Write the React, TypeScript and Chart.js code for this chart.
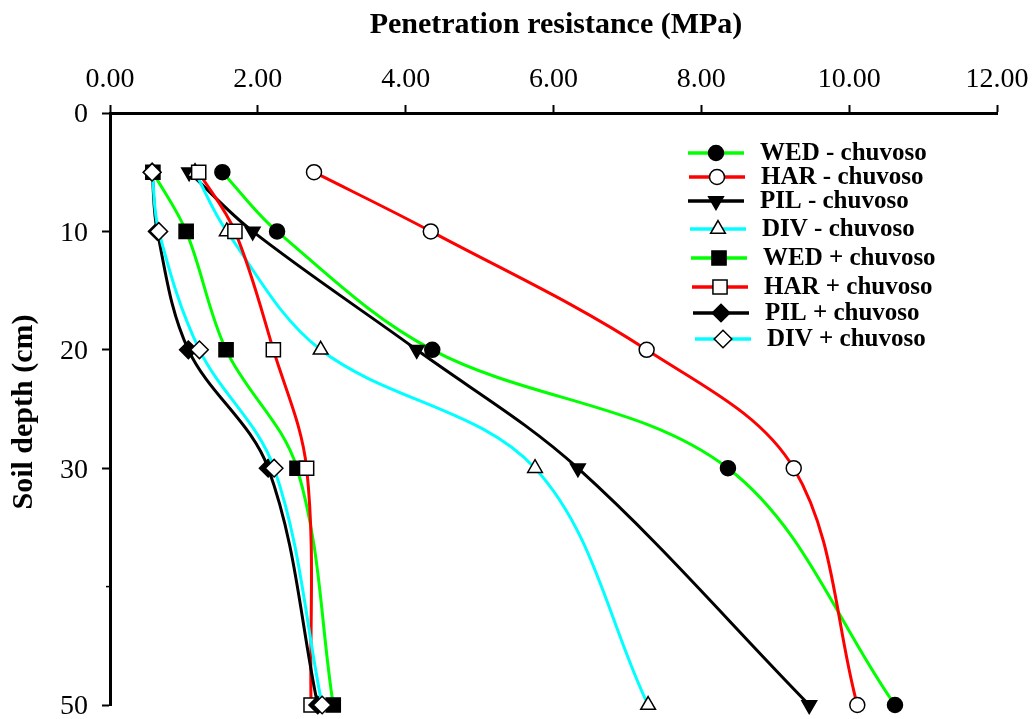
import React, { useEffect, useRef } from 'react';
import { Chart, registerables } from 'chart.js';
import { drawPoint } from 'chart.js/helpers';

Chart.register(...registerables);

// ---- Data ----
const depths = [5, 10, 20, 30, 50];
const wedMinus = [1.52, 2.26, 4.36, 8.36, 10.62];
const harMinus = [2.76, 4.34, 7.26, 9.25, 10.11];
const pilMinus = [1.07, 1.93, 4.15, 6.33, 9.46];
const divMinus = [1.15, 1.58, 2.85, 5.75, 7.28];
const wedPlus = [0.58, 1.03, 1.57, 2.53, 3.02];
const harPlus = [1.2, 1.69, 2.21, 2.66, 2.72];
const pilPlus = [0.57, 0.64, 1.06, 2.14, 2.81];
const divPlus = [0.57, 0.66, 1.21, 2.22, 2.87];

const seriesLabels = [
  'WED - chuvoso',
  'HAR - chuvoso',
  'PIL - chuvoso',
  'DIV - chuvoso',
  'WED + chuvoso',
  'HAR + chuvoso',
  'PIL + chuvoso',
  'DIV + chuvoso',
];
const seriesValues = [wedMinus, harMinus, pilMinus, divMinus, wedPlus, harPlus, pilPlus, divPlus];

const xTickValues = [0, 2, 4, 6, 8, 10, 12];
const xTickLabels = ['0.00', '2.00', '4.00', '6.00', '8.00', '10.00', '12.00'];
const yTickValues = [0, 10, 20, 30, 50];
const yTickLabels = ['0', '10', '20', '30', '50'];
const yMinorTick = 40;

const xTitle = 'Penetration resistance (MPa)';
const yTitle = 'Soil depth (cm)';

// ---- Styles ----
const lineColors = ['#00ff00', '#ff0000', '#000000', '#00ffff', '#00ff00', '#ff0000', '#000000', '#00ffff'];
const markerStyles = ['circle', 'circle', 'triangle', 'triangle', 'rect', 'rect', 'rectRot', 'rectRot'];
const markerFills = ['#000000', '#ffffff', '#000000', '#ffffff', '#000000', '#ffffff', '#000000', '#ffffff'];
const markerRadius = [7.5, 7.5, 8.5, 8.5, 10, 10, 8.8, 8.8];
const markerRotation = [0, 0, 180, 0, 0, 0, 0, 0];

const SERIF = '"Liberation Serif", "Times New Roman", serif';

const textPlugin = {
  id: 'customText',
  afterDraw(chart: any) {
    const ctx: CanvasRenderingContext2D = chart.ctx;
    const xs = chart.scales.x;
    const ys = chart.scales.y;
    ctx.save();
    ctx.fillStyle = '#000';

    // tick labels
    ctx.font = `28px ${SERIF}`;
    ctx.textAlign = 'center';
    ctx.textBaseline = 'middle';
    xTickValues.forEach((v, i) => {
      ctx.fillText(xTickLabels[i], xs.getPixelForValue(v), 80);
    });
    ctx.textAlign = 'right';
    yTickValues.forEach((v, i) => {
      ctx.fillText(yTickLabels[i], 88, ys.getPixelForValue(v) + 2);
    });

    // minor tick
    ctx.strokeStyle = '#000';
    ctx.lineWidth = 1.5;
    const my = ys.getPixelForValue(yMinorTick);
    ctx.beginPath();
    ctx.moveTo(106, my);
    ctx.lineTo(110, my);
    ctx.stroke();

    // titles
    ctx.font = `bold 30px ${SERIF}`;
    ctx.textAlign = 'center';
    ctx.textBaseline = 'alphabetic';
    ctx.fillText(xTitle, 556, 33);

    ctx.save();
    ctx.translate(32, 412);
    ctx.rotate(-Math.PI / 2);
    ctx.fillText(yTitle, 0, 0);
    ctx.restore();

    // legend
    const rowY = [153, 177, 201, 229, 258, 287, 313, 339];
    const rowShift = [0, 1, 0, 2, 3, 4, 5, 7];
    ctx.font = `bold 25px ${SERIF}`;
    ctx.textAlign = 'left';
    ctx.textBaseline = 'middle';
    seriesLabels.forEach((label, i) => {
      const y = rowY[i];
      const x0 = 688 + rowShift[i];
      ctx.strokeStyle = lineColors[i];
      ctx.lineWidth = 3.5;
      ctx.beginPath();
      ctx.moveTo(x0, y);
      ctx.lineTo(x0 + 56, y);
      ctx.stroke();
      ctx.fillStyle = markerFills[i];
      ctx.strokeStyle = '#000';
      ctx.lineWidth = 1.5;
      drawPoint(ctx, {
        pointStyle: markerStyles[i],
        rotation: markerRotation[i],
        radius: markerRadius[i],
        borderWidth: 1.5,
      } as any, x0 + 28, y);
      ctx.fillStyle = '#000';
      ctx.fillText(label, 760 + rowShift[i], y + 1);
    });

    ctx.restore();
  },
};

export default function App() {
  const ref = useRef<HTMLCanvasElement>(null);

  useEffect(() => {
    const datasets = seriesLabels.map((label, i) => ({
      label,
      data: depths.map((d, j) => ({ x: seriesValues[i][j], y: d })),
      borderColor: lineColors[i],
      borderWidth: 3,
      backgroundColor: markerFills[i],
      pointStyle: markerStyles[i] as any,
      pointRotation: markerRotation[i],
      pointRadius: markerRadius[i],
      pointHoverRadius: markerRadius[i],
      pointBackgroundColor: markerFills[i],
      pointBorderColor: '#000000',
      pointBorderWidth: 1.5,
      tension: 0.35,
      fill: false,
      clip: false as any,
      order: -i,
    }));

    const chart = new Chart(ref.current!, {
      type: 'line',
      data: { datasets },
      plugins: [textPlugin],
      options: {
        animation: false,
        responsive: false,
        devicePixelRatio: 1,
        layout: { padding: { left: 0, top: 0, right: 37, bottom: 14 } },
        plugins: {
          legend: { display: false },
          tooltip: { enabled: false },
        },
        scales: {
          x: {
            type: 'linear',
            position: 'top',
            min: 0,
            max: 12,
            ticks: { display: false, stepSize: 2 },
            grid: {
              display: true,
              drawOnChartArea: false,
              drawTicks: true,
              tickLength: 8,
              tickWidth: 2,
              tickColor: '#000',
              color: '#000',
            },
            border: { display: true, color: '#000', width: 3 },
            afterFit: (scale: any) => {
              scale.height = 113;
            },
          },
          y: {
            type: 'linear',
            position: 'left',
            reverse: true,
            min: 0,
            max: 50,
            ticks: { display: false, stepSize: 10 },
            grid: {
              display: true,
              drawOnChartArea: false,
              drawTicks: true,
              tickLength: 8,
              tickWidth: 2,
              tickColor: (c: any) => (c.tick && c.tick.value === yMinorTick ? 'rgba(0,0,0,0)' : '#000'),
              color: '#000',
            },
            border: { display: true, color: '#000', width: 3 },
            afterFit: (scale: any) => {
              scale.width = 110;
            },
          },
        },
      },
    });
    return () => chart.destroy();
  }, []);

  return (
    <div style={{ position: 'absolute', left: 0, top: 0, width: 1034, height: 719, background: '#fff' }}>
      <canvas ref={ref} width={1034} height={719} style={{ display: 'block', width: 1034, height: 719 }} />
    </div>
  );
}
